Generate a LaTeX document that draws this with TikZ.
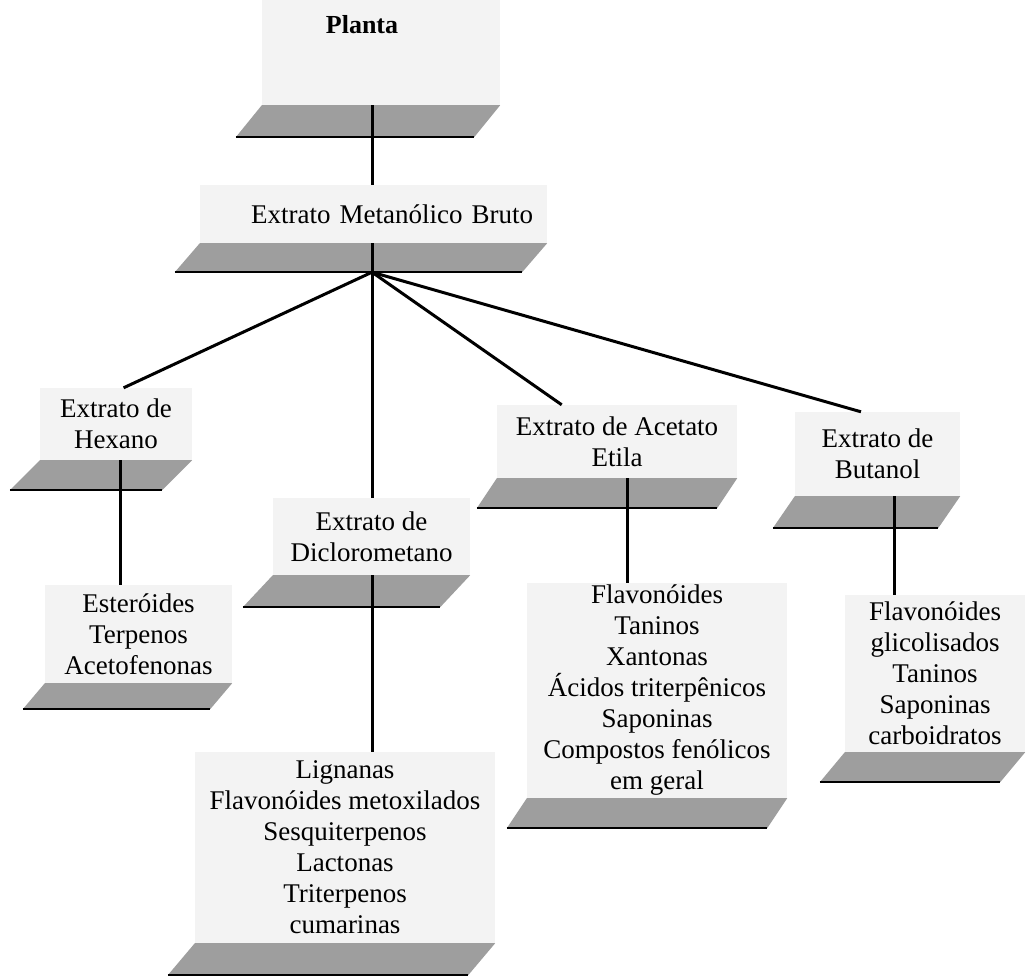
\documentclass[tikz,border=0pt]{standalone}
\usepackage{fontspec}
\setmainfont{Liberation Serif}
\usetikzlibrary{calc}
\definecolor{dots}{HTML}{F3F3F3}
\definecolor{shade}{HTML}{9E9E9E}
\tikzset{
  tile/.style={
    fill=dots, inner sep=0pt, align=center,
    font=\fontsize{27}{31}\selectfont
  },
  floor/.style={fill=shade},
  floorline/.style={draw=black, line width=1.8pt},
  link/.style={draw=black, line width=3pt}
}
\newcommand{\floorof}[3]{%
  \fill[floor] (#1.south west) -- (#1.south east) -- ++(-#2,#3) coordinate (#1-br)
    -- ($(#1.south west)+(-#2,#3)$) coordinate (#1-bl) -- cycle;
  \draw[floorline] (#1-bl) -- (#1-br);
}

\begin{document}
\begin{tikzpicture}[x=1pt, y=-1pt]
        \useasboundingbox (0,0) rectangle (1029,976);
        \node[tile, minimum width=238pt, minimum height=105pt] (planta) at (381,52.5) {};
        \node[font=\fontsize{26}{30}\selectfont\bfseries] (planta-txt) at (362,25) {Planta};
        \node[tile, minimum width=347pt, minimum height=58pt, text width=319pt, align=right] (metan) at (373.5,214) {Extrato Metanólico Bruto};
        \node[tile, minimum width=152pt, minimum height=72pt] (hexa) at (116,424) {Extrato de\\Hexano};
        \node[tile, minimum width=197pt, minimum height=77pt] (dicl) at (371.5,536.5) {Extrato de\\Diclorometano};
        \node[tile, minimum width=240pt, minimum height=73pt] (acet) at (617,441.5) {Extrato de Acetato\\Etila};
        \node[tile, minimum width=165pt, minimum height=84pt] (buta) at (877.5,454) {Extrato de\\Butanol};
        \node[tile, minimum width=187pt, minimum height=98pt] (este) at (138.5,634) {Esteróides\\Terpenos\\Acetofenonas};
        \node[tile, minimum width=300pt, minimum height=191pt] (ligna) at (345,847.5) {Lignanas\\Flavonóides metoxilados\\Sesquiterpenos\\Lactonas\\Triterpenos\\cumarinas};
        \node[tile, minimum width=260pt, minimum height=215pt] (flav) at (657,690.5) {Flavonóides\\Taninos\\Xantonas\\Ácidos triterpênicos\\Saponinas\\Compostos fenólicos\\em geral};
        \node[tile, minimum width=180pt, minimum height=157pt] (glic) at (935,673.5) {Flavonóides\\glicolisados\\Taninos\\Saponinas\\carboidratos};
        \floorof{planta}{26}{32}
        \floorof{metan}{25}{29}
        \floorof{hexa}{30}{30}
        \floorof{dicl}{30}{32}
        \floorof{acet}{20}{30}
        \floorof{buta}{22}{32}
        \floorof{este}{22}{26}
        \floorof{ligna}{27}{32}
        \floorof{flav}{20}{30}
        \floorof{glic}{25}{30}
        \coordinate (fork) at ($(metan.south)+(-1.5,29)$);
        \draw[link] (planta.south -| fork) -- (metan.north -| fork);
        \draw[link] (metan.south -| fork) -- (fork);
        \draw[link] (fork) -- ($(hexa.north west)!0.55!(hexa.north east)$);
        \draw[link] (fork) -- (dicl.north -| fork);
        \draw[link] (fork) -- ($(acet.north west)!0.27!(acet.north east)$);
        \draw[link] (fork) -- ($(buta.north west)!0.4!(buta.north east)$);
        \draw[link] ([xshift=4pt]hexa.south) -- ([xshift=4pt]hexa.south |- este.north);
        \draw[link] (dicl.south -| fork) -- (ligna.north -| fork);
        \draw[link] ([xshift=10pt]acet.south) -- ([xshift=10pt]acet.south |- flav.north);
        \draw[link] ([xshift=17pt]buta.south) -- ([xshift=17pt]buta.south |- glic.north);
      \end{tikzpicture}
\end{document}
